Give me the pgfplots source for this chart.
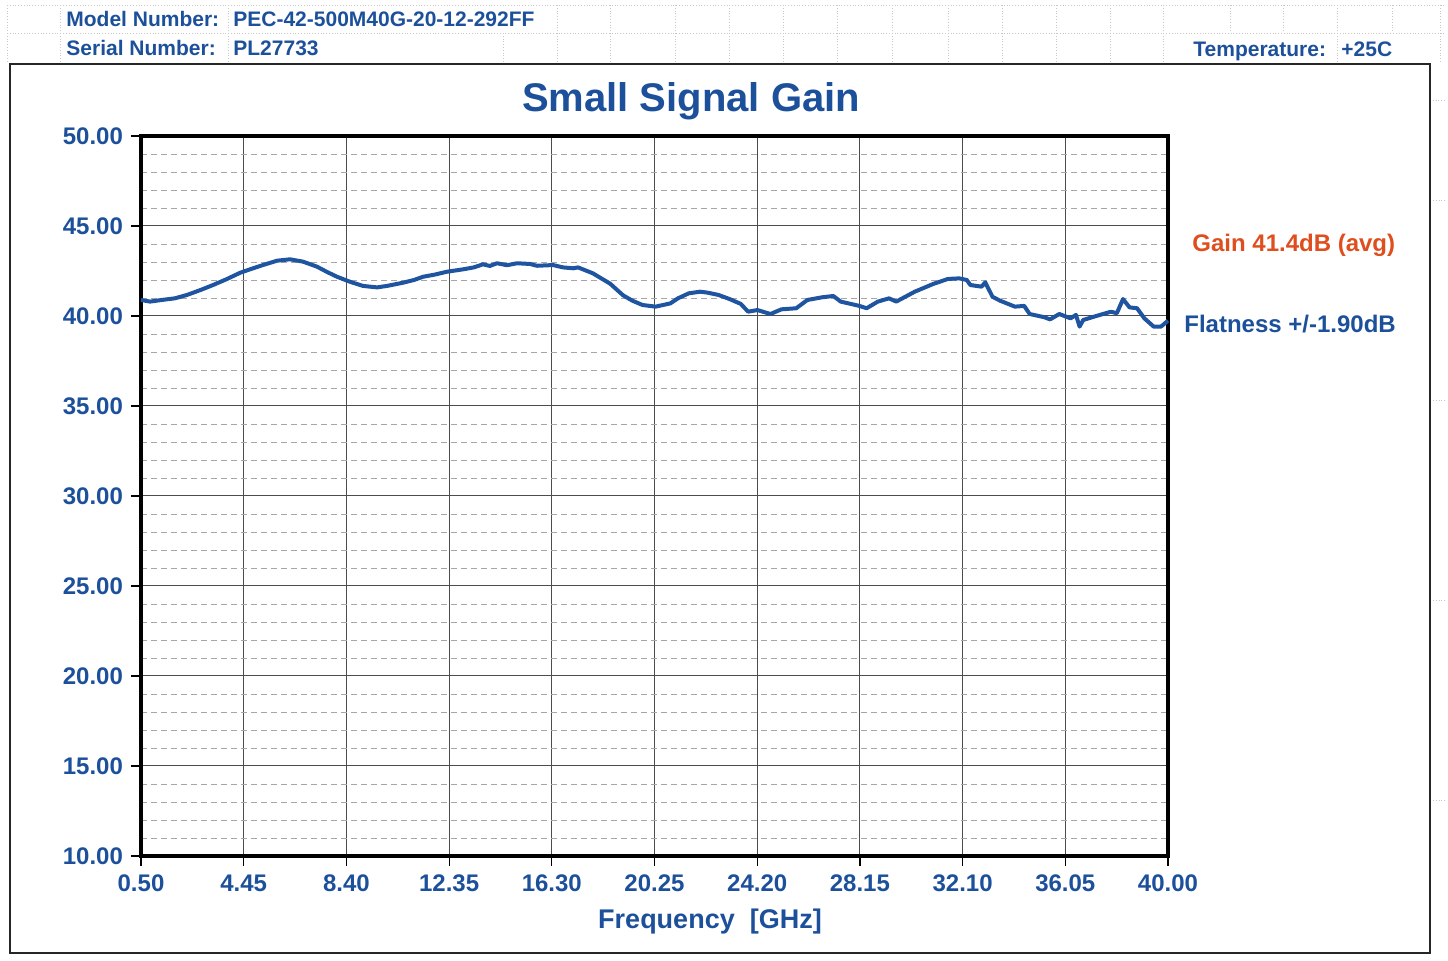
\documentclass[border=0pt]{standalone}
\usepackage{pgfplots}
\pgfplotsset{compat=1.18}
\usepackage{fontspec}
\setmainfont{Liberation Sans}
\definecolor{tblue}{RGB}{28,80,155}
\definecolor{cblue}{RGB}{30,84,160}
\definecolor{gorange}{RGB}{222,78,30}
\definecolor{cellgray}{RGB}{200,200,200}
\begin{document}
\begin{tikzpicture}
\begin{scope}[x=0.5pt,y=-0.5pt]
\path[use as bounding box] (0,0) rectangle (1448,961);
% spreadsheet cell lines
\draw[cellgray, densely dotted, line width=0.4pt] (7,5) -- (1445,5);
\draw[cellgray, densely dotted, line width=0.4pt] (7,33) -- (1445,33);
\draw[cellgray, densely dotted, line width=0.4pt] (1430,100) -- (1445,100);
\foreach \xx in {7,60,228,557,610,675,729,783,837,892,948,1002,1056,1110,1163,1230,1283,1337,1392,1440}
  \draw[cellgray, densely dotted, line width=0.4pt] (\xx,5) -- (\xx,33);
\foreach \xx in {7,60,228,503,557,610,675,729,783,837,892,948,1002,1056,1110,1163,1337,1440}
  \draw[cellgray, densely dotted, line width=0.4pt] (\xx,33) -- (\xx,63);
\foreach \yy in {200,400,600,800}
  \draw[cellgray, densely dotted, line width=0.4pt] (1433,\yy) -- (1445,\yy);
% chart frame
\draw[black!85, line width=1.1pt] (10,64) rectangle (1430,953);
% header
\tikzset{hdr/.style={anchor=base west, inner sep=0pt, text=tblue, font=\bfseries\fontsize{10.5}{12}\selectfont}}
\node[hdr] at (66,27) {Model Number:};
\node[hdr] at (233,27) {PEC-42-500M40G-20-12-292FF};
\node[hdr] at (66,56) {Serial Number:};
\node[hdr] at (233,56) {PL27733};
\node[hdr] at (1193,57) {Temperature:};
\node[hdr] at (1341,57) {+25C};
% title and labels
\node[text=tblue, font=\bfseries\fontsize{20}{24}\selectfont] at (691,101) {Small Signal Gain};
\node[text=tblue, font=\bfseries\fontsize{13.5}{16}\selectfont] at (710,922) {Frequency\ \ [GHz]};
\node[anchor=west, inner sep=0pt, text=gorange, font=\bfseries\fontsize{12}{14}\selectfont] at (1192,245) {Gain 41.4dB (avg)};
\node[anchor=west, inner sep=0pt, text=tblue, font=\bfseries\fontsize{12}{14}\selectfont] at (1184,324) {Flatness +/-1.90dB};
\end{scope}
\begin{axis}[
  at={(70.5pt,-428pt)}, anchor=south west,
  width=513.5pt, height=360pt, scale only axis,
  xmin=0.5, xmax=40, ymin=10, ymax=50,
  xtick={0.5,4.45,8.4,12.35,16.3,20.25,24.2,28.15,32.1,36.05,40},
  xticklabels={0.50,4.45,8.40,12.35,16.30,20.25,24.20,28.15,32.10,36.05,40.00},
  ytick={10,15,20,25,30,35,40,45,50},
  yticklabels={10.00,15.00,20.00,25.00,30.00,35.00,40.00,45.00,50.00},
  minor y tick num=4,
  xtick pos=bottom, ytick pos=left,
  grid=both,
  major grid style={black!70, line width=0.5pt},
  minor grid style={gray!70, densely dashed, line width=0.35pt},
  axis line style={black, line width=2pt},
  tick align=outside,
  major tick length=5pt, minor tick length=0pt,
  tick style={black, line width=0.6pt},
  ticklabel style={text=tblue, font=\bfseries\fontsize{12}{14}\selectfont},
  yticklabel style={xshift=-0.5pt},
  xticklabel style={yshift=-1pt},
  clip=false,
]
\addplot[cblue, line width=2pt, line join=round] coordinates {
(0.50,40.89) (0.85,40.80) (1.35,40.90) (1.80,40.98) (2.27,41.17) (2.80,41.45)
(3.27,41.72) (3.80,42.05) (4.31,42.40) (4.75,42.62) (5.19,42.83) (5.73,43.07)
(6.23,43.15) (6.73,43.02) (7.27,42.74) (7.65,42.45) (8.04,42.18) (8.54,41.90)
(9.04,41.67) (9.58,41.59) (9.96,41.67) (10.58,41.85) (11.00,42.00) (11.35,42.18)
(11.80,42.30) (12.27,42.46) (12.88,42.59) (13.30,42.70) (13.65,42.87) (13.92,42.78)
(14.19,42.93) (14.58,42.82) (14.96,42.93) (15.46,42.89) (15.73,42.79) (16.35,42.83)
(16.73,42.70) (17.12,42.65) (17.31,42.70) (17.88,42.37) (18.54,41.80) (19.04,41.15)
(19.40,40.85) (19.79,40.61) (20.29,40.52) (20.86,40.70) (21.15,40.98) (21.57,41.26)
(22.00,41.35) (22.28,41.30) (22.71,41.17) (23.14,40.94) (23.57,40.67) (23.85,40.24)
(24.21,40.33) (24.71,40.11) (25.13,40.37) (25.70,40.43) (26.13,40.89) (26.70,41.04)
(27.13,41.11) (27.41,40.80) (28.13,40.56) (28.41,40.43) (28.84,40.80) (29.27,40.98)
(29.55,40.80) (30.26,41.35) (30.97,41.78) (31.54,42.06) (31.97,42.09) (32.26,42.00)
(32.40,41.72) (32.83,41.63) (32.97,41.87) (33.25,41.07) (33.54,40.85) (34.11,40.52)
(34.47,40.56) (34.68,40.11) (35.25,39.93) (35.46,39.81) (35.82,40.11) (36.25,39.87)
(36.46,40.06) (36.60,39.41) (36.74,39.78) (37.24,40.00) (37.81,40.24) (38.03,40.15)
(38.27,40.94) (38.52,40.48) (38.81,40.43) (39.09,39.87) (39.45,39.41) (39.73,39.41)
(40.00,39.74)
};
\end{axis}
\end{tikzpicture}
\end{document}
